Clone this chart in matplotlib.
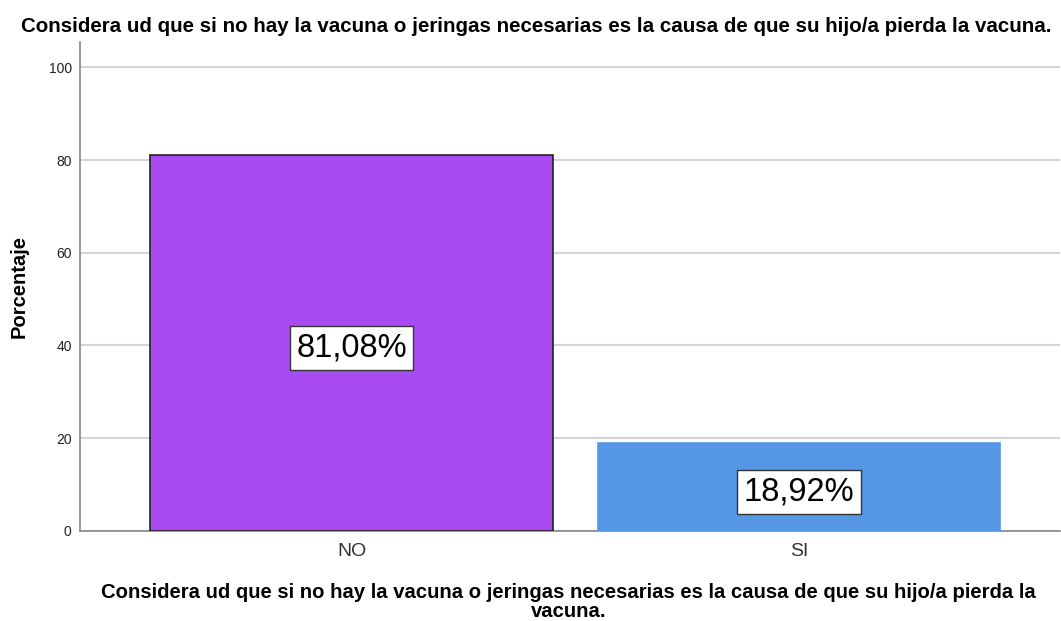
import matplotlib.pyplot as plt

# Data
categories = ['NO', 'SI']
percentages = [81.08, 18.92]
bar_colors = ['#A84BF2', '#5597E4']
edge_colors = ['#222222', '#5597E4']

title = 'Considera ud que si no hay la vacuna o jeringas necesarias es la causa de que su hijo/a pierda la vacuna.'
xlabel = ('Considera ud que si no hay la vacuna o jeringas necesarias es la causa de que su hijo/a pierda la\n'
          'vacuna.')

plt.rcParams['font.family'] = ['Liberation Sans', 'DejaVu Sans']

fig = plt.figure(figsize=(10.61, 6.21), dpi=100)
ax = fig.add_axes([0.0754, 0.145, 0.9236, 0.787])

x = list(range(len(categories)))
ax.bar(x, percentages, width=0.9, color=bar_colors, edgecolor=edge_colors,
       linewidth=1.2, zorder=3)

# Value labels in boxes
for xi, v in zip(x, percentages):
    ax.text(xi, v / 2 - 1, f"{v:.2f}%".replace('.', ','), ha='center', va='center',
            fontsize=23.5, zorder=4,
            bbox=dict(boxstyle='square,pad=0.2', facecolor='white',
                      edgecolor='#333333', linewidth=1))

ax.set_xlim(-0.607, 1.583)
ax.set_ylim(0, 105.4)
ax.set_yticks([0, 20, 40, 60, 80, 100])
ax.set_xticks(x)
ax.set_xticklabels(categories, fontsize=14, color='#333333')
ax.tick_params(axis='y', length=0, pad=6, labelsize=10, labelcolor='#222222')
ax.tick_params(axis='x', length=0, pad=9)

ax.grid(axis='y', color='#d4d4d4', linewidth=1.5, zorder=0)
ax.set_axisbelow(True)
for side in ['top', 'right']:
    ax.spines[side].set_visible(False)
ax.spines['left'].set_color('#888888')
ax.spines['bottom'].set_color('#888888')
ax.spines['left'].set_linewidth(1.2)
ax.spines['bottom'].set_linewidth(1.2)

ax.set_ylabel('Porcentaje', fontsize=14.5, fontweight='bold', labelpad=14)
fig.text(0.505, 0.957, title, ha='center', va='center', fontsize=14.8,
         fontweight='bold')
fig.text(0.536, 0.031, xlabel, ha='center', va='center', fontsize=14.6,
         fontweight='bold', linespacing=0.98, multialignment='center')

fig.savefig('out.png', dpi=100)
